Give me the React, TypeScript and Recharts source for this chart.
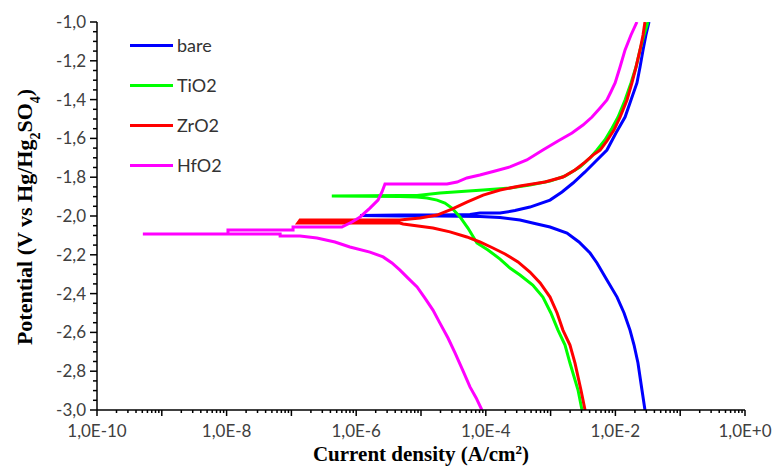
import { LineChart, Line, XAxis, YAxis, Legend, Label } from 'recharts';

// current density (A/cm2) and potential (V vs Hg/Hg2SO4); cathodic branch first, then anodic
const bareI = [2.86e-2, 2.57e-2, 2.23e-2, 1.94e-2, 1.68e-2, 1.36e-2, 1.06e-2, 7.4e-3, 5.2e-3, 4.06e-3, 2.74e-3, 1.79e-3,
  9.8e-4, 5.7e-4, 3.37e-4, 1.66e-4, 8.1e-5, 1.96e-5, 4.7e-6, 1.15e-6,
  4.7e-6, 1.96e-5, 5.7e-5, 8.1e-5, 1.66e-4, 2.82e-4, 4.8e-4, 9.8e-4, 1.5e-3, 2.22e-3, 3.4e-3, 5.2e-3, 7.4e-3,
  1.02e-2, 1.41e-2, 1.74e-2, 2.15e-2, 2.4e-2, 2.67e-2, 2.96e-2, 3.3e-2];
const bareE = [-3.0, -2.897, -2.758, -2.665, -2.588, -2.5, -2.418, -2.33, -2.242, -2.191, -2.134, -2.088,
  -2.057, -2.039, -2.021, -2.008, -2.003, -2.0, -2.0, -1.997,
  -1.995, -1.995, -1.992, -1.985, -1.985, -1.972, -1.954, -1.918, -1.876, -1.83, -1.773, -1.711, -1.66,
  -1.572, -1.49, -1.402, -1.314, -1.232, -1.144, -1.067, -1.0];

const tioI = [3.05e-3, 2.65e-3, 1.99e-3, 1.67e-3, 1.3e-3, 1.01e-3, 7.6e-4, 5.3e-4, 3.37e-4, 2.36e-4, 1.66e-4, 1.08e-4,
  7.3e-5, 5.3e-5, 4.0e-5, 3.0e-5, 2.34e-5, 1.77e-5, 1.24e-5, 8.7e-6, 4.7e-6, 4.2e-7,
  4.7e-6, 8.7e-6, 1.96e-5, 9.1e-5, 2.36e-4, 4.8e-4, 9.8e-4, 1.67e-3, 2.84e-3, 4.06e-3, 5.2e-3, 6.9e-3, 8.9e-3,
  1.1e-2, 1.41e-2, 1.74e-2, 2.08e-2, 2.4e-2, 2.76e-2, 3.18e-2];
const tioE = [-3.0, -2.897, -2.758, -2.665, -2.588, -2.5, -2.418, -2.356, -2.304, -2.268, -2.222, -2.175,
  -2.139, -2.062, -2.005, -1.959, -1.933, -1.918, -1.907, -1.902, -1.899, -1.897,
  -1.894, -1.894, -1.881, -1.866, -1.856, -1.84, -1.82, -1.794, -1.747, -1.701, -1.66, -1.608, -1.546,
  -1.49, -1.402, -1.314, -1.232, -1.144, -1.067, -1.0];

const zroI = [3.4e-3, 2.94e-3, 2.38e-3, 1.99e-3, 1.55e-3, 1.26e-3, 9.8e-4, 6.9e-4, 4.8e-4, 3.14e-4, 1.98e-4, 1.29e-4,
  8.1e-5, 5.1e-5, 2.8e-5, 1.53e-5, 9.0e-6, 5.3e-6, 4.7e-6, 1.26e-7,
  1.36e-7, 4.7e-6, 9.7e-6, 1.77e-5, 3.0e-5, 5.1e-5, 9.1e-5, 1.66e-4, 3.37e-4, 8.2e-4, 1.55e-3, 2.38e-3, 3.4e-3,
  4.5e-3, 5.8e-3, 7.4e-3, 9.5e-3, 1.18e-2, 1.51e-2, 1.8e-2, 2.08e-2, 2.4e-2, 2.67e-2, 2.86e-2];
const zroE = [-3.0, -2.897, -2.758, -2.665, -2.588, -2.5, -2.418, -2.345, -2.289, -2.237, -2.196, -2.165,
  -2.134, -2.108, -2.082, -2.062, -2.052, -2.041, -2.036, -2.036,
  -2.021, -2.021, -2.01, -1.995, -1.964, -1.928, -1.892, -1.866, -1.845, -1.825, -1.799, -1.763, -1.722,
  -1.686, -1.66, -1.613, -1.557, -1.49, -1.402, -1.314, -1.232, -1.144, -1.067, -1.0];

const hfoI = [8.7e-5, 7.1e-5, 5.7e-5, 4.4e-5, 3.35e-5, 2.61e-5, 1.96e-5, 1.53e-5, 1.15e-5, 8.7e-6, 6.3e-6, 4.7e-6,
  3.56e-6, 2.6e-6, 1.63e-6, 8.0e-7, 4.7e-7, 2.48e-7, 1.36e-7, 6.7e-8, 6.7e-8, 5.1e-10,
  1.05e-8, 1.05e-8, 1.06e-7, 1.06e-7, 6.0e-7, 8.6e-7, 1.15e-6, 1.63e-6, 2.17e-6, 2.5e-6, 2.78e-6, 2.52e-5, 3.6e-5,
  5.1e-5, 8.1e-5, 1.39e-4, 2.36e-4, 4.3e-4, 7.6e-4, 1.3e-3, 2.14e-3, 3.16e-3, 4.36e-3, 5.8e-3, 7.4e-3, 8.5e-3,
  9.9e-3, 1.18e-2, 1.41e-2, 1.74e-2, 2.15e-2];
const hfoE = [-3.0, -2.938, -2.881, -2.794, -2.706, -2.629, -2.552, -2.485, -2.423, -2.366, -2.32, -2.278,
  -2.242, -2.211, -2.186, -2.16, -2.134, -2.113, -2.103, -2.103, -2.093, -2.093,
  -2.093, -2.072, -2.072, -2.057, -2.057, -2.031, -2.005, -1.959, -1.918, -1.876, -1.835, -1.835, -1.825,
  -1.804, -1.789, -1.768, -1.747, -1.711, -1.66, -1.613, -1.572, -1.531, -1.49, -1.443, -1.402, -1.361,
  -1.314, -1.232, -1.144, -1.067, -1.0];

const yLabelTicks = [-3.0, -2.8, -2.6, -2.4, -2.2, -2.0, -1.8, -1.6, -1.4, -1.2, -1.0];
const xLabelTicks = [1e-10, 1e-8, 1e-6, 1e-4, 1e-2, 1];

// minor ticks: every 0.05 V, and 2..9 in every decade
const yTicks: number[] = [];
for (let k = 0; k <= 40; k++) yTicks.push(Math.round((-3 + k * 0.05) * 100) / 100);

const xTicks: number[] = [];
for (let e = -10; e <= 0; e++) {
  xTicks.push(Math.pow(10, e));
  if (e < 0) for (let m = 2; m <= 9; m++) xTicks.push(m * Math.pow(10, e));
}

const zip = (I: number[], E: number[]) => I.map((i, k) => ({ i, e: E[k] }));

const series = [
  { name: 'bare', color: '#0000FF', data: zip(bareI, bareE) },
  { name: 'TiO2', color: '#00FF00', data: zip(tioI, tioE) },
  { name: 'ZrO2', color: '#FF0000', data: zip(zroI, zroE) },
  { name: 'HfO2', color: '#FF00FF', data: zip(hfoI, hfoE) },
];

const tickFont = { fontFamily: 'Lato, sans-serif', fontSize: 17, fill: '#404040' };
const titleFont = { fontFamily: '"Liberation Serif", serif', fontSize: 21, fontWeight: 700, fill: '#000' };

const YTick = (props: any) => {
  const { x, y, payload } = props;
  const v = payload.value;
  const major = yLabelTicks.some((t) => Math.abs(t - v) < 1e-6);
  return (
    <g>
      <line x1={x - (major ? 7 : 4)} x2={x} y1={y} y2={y} stroke="#000" strokeWidth={1.5} />
      {major && (
        <text x={x - 11} y={y} dy={6} textAnchor="end" {...tickFont}>
          {v.toFixed(1).replace('.', ',')}
        </text>
      )}
    </g>
  );
};

const XTick = (props: any) => {
  const { x, y, payload } = props;
  const v = payload.value;
  const lg = Math.log10(v);
  const exp = Math.round(lg);
  const decade = Math.abs(lg - exp) < 1e-6;
  const labeled = xLabelTicks.some((t) => Math.abs(Math.log10(t) - lg) < 1e-6);
  return (
    <g>
      <line x1={x} x2={x} y1={y} y2={y + (decade ? 6 : 3)} stroke="#000" strokeWidth={1.5} />
      {labeled && (
        <text x={x} y={y + 27} textAnchor="middle" {...tickFont}>
          {`1,0E${exp >= 0 ? '+' + exp : exp}`}
        </text>
      )}
    </g>
  );
};

const LegendBox = () => (
  <div>
    {series.map((s) => (
      <div key={s.name} style={{ display: 'flex', alignItems: 'center', height: 40 }}>
        <div style={{ width: 43, height: 3, background: s.color, marginRight: 4 }} />
        <span style={{ fontFamily: 'Lato, sans-serif', fontSize: 18, color: '#333' }}>{s.name}</span>
      </div>
    ))}
  </div>
);

export default function App() {
  return (
    <div style={{ position: 'absolute', left: 0, top: 0, background: '#fff' }}>
      <LineChart width={773} height={466} margin={{ top: 22, right: 28, bottom: 0, left: 0 }}>
        <XAxis
          type="number"
          dataKey="i"
          scale="log"
          domain={[1e-10, 1]}
          allowDataOverflow
          ticks={xTicks}
          interval={0}
          tickSize={0}
          tickMargin={0}
          tickLine={false}
          tick={<XTick />}
          axisLine={{ stroke: '#000', strokeWidth: 1.5 }}
          height={56}
        >
          <Label
            content={() => (
              <text x={421} y={461} textAnchor="middle" {...titleFont}>
                Current density (A/cm<tspan baselineShift="super" fontSize={13}>2</tspan>)
              </text>
            )}
          />
        </XAxis>
        <YAxis
          type="number"
          domain={[-3, -1]}
          allowDataOverflow
          ticks={yTicks}
          interval={0}
          tickSize={0}
          tickMargin={0}
          tickLine={false}
          tick={<YTick />}
          axisLine={{ stroke: '#000', strokeWidth: 1.5 }}
          width={97}
        >
          <Label
            content={() => (
              <text x={32} y={217} textAnchor="middle" transform="rotate(-90 32 217)" fontFamily='"Liberation Serif", serif' fontSize={22} fontWeight={700} fill="#000">
                Potential (V vs Hg/Hg<tspan baselineShift="sub" fontSize={14}>2</tspan>SO<tspan baselineShift="sub" fontSize={14}>4</tspan>)
              </text>
            )}
          />
        </YAxis>
        <Legend
          layout="vertical"
          align="center"
          verticalAlign="middle"
          wrapperStyle={{ left: 130, top: 25, width: 'auto', height: 'auto' }}
          content={<LegendBox />}
        />
        {series.map((s) => (
          <Line
            key={s.name}
            data={s.data}
            dataKey="e"
            name={s.name}
            type="linear"
            stroke={s.color}
            strokeWidth={3}
            dot={false}
            activeDot={false}
            isAnimationActive={false}
          />
        ))}
      </LineChart>
    </div>
  );
}
